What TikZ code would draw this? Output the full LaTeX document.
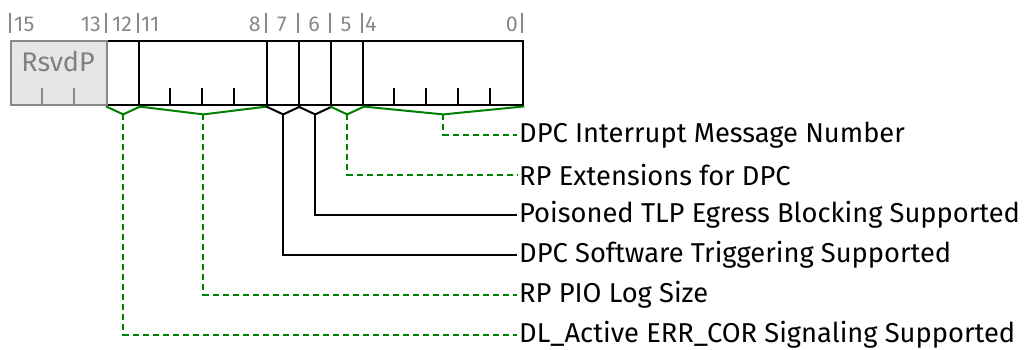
\documentclass[tikz,border=0pt]{standalone}
\usepackage{fontspec}
\setmainfont{Fira Sans}
\definecolor{dgreen}{RGB}{0,128,0}
\definecolor{numgray}{RGB}{136,136,136}
\definecolor{rsvfill}{RGB}{230,230,230}
\definecolor{rsvtext}{RGB}{128,128,128}
\begin{document}
\begin{tikzpicture}[x=1pt,y=-1pt,
  fld/.style={draw=black, line width=2.4pt, minimum height=64pt, inner sep=0pt, anchor=north west},
  rsv/.style={draw=numgray, fill=rsvfill, line width=2.4pt, minimum height=64pt, minimum width=96pt, inner sep=0pt, anchor=north west},
  bitnum/.style={text=numgray, font=\fontsize{21.5}{22}\selectfont, inner sep=0pt},
  bittick/.style={draw=numgray, line width=1.6pt},
  subtick/.style={draw=black, line width=2pt},
  lbl/.style={anchor=west, font=\fontsize{27.3}{32}\selectfont, inner xsep=2pt, inner ysep=0pt},
  grn/.style={draw=dgreen, line width=2pt},
  gdash/.style={grn, dash pattern=on 6pt off 4pt},
  blk/.style={draw=black, line width=2pt}
]
\useasboundingbox (0,0) rectangle (1026,350);

% bit number ticks
\foreach \x in {10,106,138,266,298,330,362,522}
  \draw[bittick] (\x,13) -- (\x,33);
\node[bitnum, anchor=base west] (n15) at (14,32) {15};
\node[bitnum, anchor=base east] (n13) at (101,32) {13};
\node[bitnum, anchor=base] (n12) at (122,32) {12};
\node[bitnum, anchor=base west] (n11) at (141,32) {11};
\node[bitnum, anchor=base east] (n8) at (261,32) {8};
\node[bitnum, anchor=base] (n7) at (282,32) {7};
\node[bitnum, anchor=base] (n6) at (314,32) {6};
\node[bitnum, anchor=base] (n5) at (346,32) {5};
\node[bitnum, anchor=base west] (n4) at (365,32) {4};
\node[bitnum, anchor=base east] (n0) at (518,32) {0};

% fields
\node[fld, minimum width=32pt] (f12) at (106,40) {};
\node[fld, minimum width=128pt] (f11) at (138,40) {};
\node[fld, minimum width=32pt] (f7) at (266,40) {};
\node[fld, minimum width=32pt] (f6) at (298,40) {};
\node[fld, minimum width=32pt] (f5) at (330,40) {};
\node[fld, minimum width=160pt] (f4) at (362,40) {};
\node[rsv] (frs) at (10,40) {};
\node[text=rsvtext, font=\fontsize{27}{28}\selectfont, inner sep=0pt] (rsvt) at (58,62) {RsvdP};

% sub ticks
\foreach \x in {42,74}
  \draw[bittick, line width=2pt] (\x,88) -- (\x,104);
\foreach \x in {170,202,234,394,426,458,490}
  \draw[subtick] (\x,88) -- (\x,104);

% apex coordinates
\coordinate (a12) at ([yshift=-8pt]f12.south);
\coordinate (a11) at ([yshift=-8pt]f11.south);
\coordinate (a7) at ([yshift=-8pt]f7.south);
\coordinate (a6) at ([yshift=-8pt]f6.south);
\coordinate (a5) at ([yshift=-8pt]f5.south);
\coordinate (a4) at ([yshift=-8pt]f4.south);

% brackets
\draw[grn] (f12.south west) -- (a12) -- (f12.south east);
\draw[grn] (f11.south west) -- (a11) -- (f11.south east);
\draw[blk] (f7.south west) -- (a7) -- (f7.south east);
\draw[blk] (f6.south west) -- (a6) -- (f6.south east);
\draw[grn] (f5.south west) -- (a5) -- (f5.south east);
\draw[grn] (f4.south west) -- (a4) -- (f4.south east);

% labels
\node[lbl] (l1) at (517,135) {DPC Interrupt Message Number};
\node[lbl] (l2) at (517,175) {RP Extensions for DPC};
\node[lbl] (l3) at (517,215) {Poisoned TLP Egress Blocking Supported};
\node[lbl] (l4) at (517,255) {DPC Software Triggering Supported};
\node[lbl] (l5) at (517,295) {RP PIO Log Size};
\node[lbl] (l6) at (517,335) {DL\_Active ERR\_COR Signaling Supported};

% connectors
\draw[gdash] (a4) |- (l1.west);
\draw[gdash] (a5) |- (l2.west);
\draw[blk] (a6) |- (l3.west);
\draw[blk] (a7) |- (l4.west);
\draw[gdash] (a11) |- (l5.west);
\draw[gdash] (a12) |- (l6.west);
\end{tikzpicture}
\end{document}
